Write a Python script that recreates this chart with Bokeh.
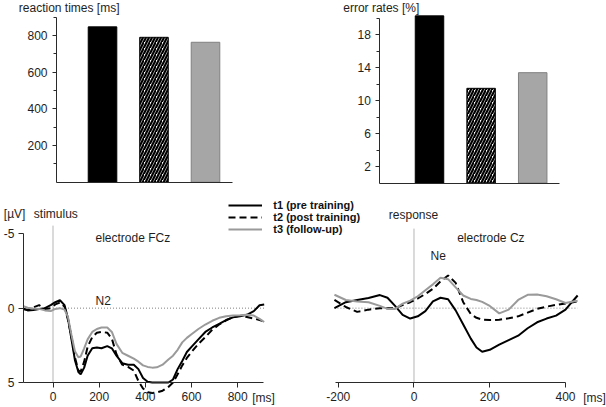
from bokeh.plotting import figure
from bokeh.models import (ColumnDataSource, Range1d, FixedTicker, Label, Legend,
                          LegendItem, LinearAxis, PrintfTickFormatter)
from bokeh.layouts import column, row
from bokeh.embed import file_html
from bokeh.resources import INLINE

# ---------------- data ----------------
sessions = ["t1 (pre training)", "t2 (post training)", "t3 (follow-up)"]
reaction_times_ms = [847, 790, 763]
error_rates_pct = [20.3, 11.5, 13.4]
rt_major_ticks = [200, 400, 600, 800]
rt_minor_ticks = [100, 300, 500, 700, 900]
err_major_ticks = [2, 6, 10, 14, 18]
err_minor_ticks = [4, 8, 12, 16, 20]

# stimulus-locked ERP, electrode FCz (µV, negative up)
fcz_time_ms = [-128, -110, -85, -60, -35, -10, 10, 30, 50, 65, 80, 95, 110, 120, 135, 150,
               170, 190, 210, 235, 255, 275, 300, 325, 350, 370, 390, 410, 430, 450, 475,
               500, 520, 540, 560, 580, 600, 630, 660, 690, 720, 750, 780, 810, 840, 870,
               895, 915]
fcz_t1 = [0.03, 0.15, 0.12, 0.05, 0.0, -0.2, -0.4, -0.53, -0.2, 0.7, 2.1, 3.5, 4.3, 4.45,
          4.0, 3.2, 2.7, 2.65, 2.7, 2.55, 2.7, 3.2, 3.7, 3.8, 3.8, 4.1, 4.7, 4.95, 5.0, 5.0,
          5.0, 5.0, 4.8, 4.1, 3.55, 2.95, 2.6, 2.1, 1.6, 1.3, 1.05, 0.8, 0.62, 0.55, 0.45,
          0.2, -0.2, -0.24]
fcz_t2 = [0.08, 0.1, -0.05, -0.2, 0.05, 0.0, -0.25, -0.38, -0.1, 0.8, 1.9, 3.3, 4.2, 4.25,
          3.6, 2.6, 1.95, 1.65, 1.6, 1.65, 2.05, 3.1, 3.8, 3.95, 4.2, 4.9, 5.4, 5.65, 5.7,
          5.67, 5.55, 5.3, 5.0, 4.45, 3.85, 3.35, 2.95, 2.4, 1.95, 1.45, 1.1, 0.82, 0.6,
          0.52, 0.6, 0.7, 0.8, 0.9]
fcz_t3 = [-0.13, -0.03, 0.02, 0.05, 0.15, 0.2, 0.05, 0.0, 0.1, 0.6, 1.8, 2.9, 3.3, 3.25,
          2.7, 2.1, 1.6, 1.4, 1.3, 1.3, 1.6, 2.4, 3.0, 3.2, 3.4, 3.6, 3.85, 3.95, 4.0, 3.98,
          3.8, 3.45, 3.2, 2.8, 2.3, 2.0, 1.75, 1.4, 1.1, 0.85, 0.65, 0.55, 0.5, 0.48, 0.45,
          0.5, 0.72, 0.93]

# response-locked ERP, electrode Cz
cz_time_ms = [-210, -180, -150, -120, -90, -70, -50, -30, -10, 10, 30, 50, 70, 90, 110, 130,
              150, 165, 180, 200, 225, 250, 275, 300, 325, 350, 375, 400, 420, 432]
cz_t1 = [0.0, -0.4, -0.55, -0.68, -0.88, -0.7, -0.15, 0.45, 0.7, 0.55, 0.2, -0.45, -0.7,
         -0.6, 0.15, 1.1, 2.05, 2.65, 2.93, 2.8, 2.45, 2.15, 1.85, 1.35, 0.95, 0.7, 0.5,
         0.1, -0.5, -0.85]
cz_t2 = [-0.55, -0.08, 0.25, 0.1, 0.0, 0.0, 0.0, -0.2, -0.4, -0.65, -0.95, -1.3, -1.8, -2.2,
         -1.7, -0.4, 0.4, 0.65, 0.77, 0.8, 0.78, 0.68, 0.55, 0.3, 0.05, -0.1, -0.22, -0.32,
         -0.4, -0.45]
cz_t3 = [-0.9, -0.55, -0.45, -0.4, -0.15, 0.05, 0.05, -0.3, -0.5, -0.8, -1.2, -1.6, -2.05,
         -1.95, -1.4, -0.85, -0.62, -0.55, -0.42, -0.15, 0.35, 0.1, -0.55, -0.9, -0.92,
         -0.8, -0.6, -0.35, -0.45, -0.5]

uv_ticks = [-5, 0, 5]
fcz_time_ticks = [0, 200, 400, 600, 800]
cz_time_ticks = [-200, 0, 200, 400]

# ---------------- styles ----------------
FONT = "Liberation Sans"
TXT = "#1e1e1e"
AX = "#2a2a2a"
GREY_LINE = "#9a9a9a"
bar_fill = ["#000000", "#ffffff", "#a6a6a6"]
bar_line = ["#000000", "#000000", "#808080"]
bar_hatch = [" ", "/", " "]


def make_fig(w, h, xr, yr):
    p = figure(width=w, height=h, x_range=xr, y_range=yr, output_backend="svg",
               toolbar_location=None, x_axis_location=None, y_axis_location=None,
               min_border_left=0, min_border_right=0, min_border_top=0,
               min_border_bottom=0)
    p.grid.visible = False
    p.outline_line_color = None
    return p


def make_axis(loc, bounds, ticks, minor=(), tick_out=4, minor_out=3, standoff=5, **kw):
    return LinearAxis(fixed_location=loc, bounds=bounds,
                      ticker=FixedTicker(ticks=list(ticks), minor_ticks=list(minor)),
                      formatter=PrintfTickFormatter(format="%d"),
                      axis_line_color=AX, axis_line_width=1,
                      major_tick_line_color=AX, minor_tick_line_color=AX,
                      major_tick_in=0, major_tick_out=tick_out,
                      minor_tick_in=0, minor_tick_out=minor_out,
                      major_label_standoff=standoff,
                      major_label_text_font=FONT, major_label_text_font_size="12px",
                      major_label_text_color=TXT, **kw)


def label(p, x, y, text, size="12px", style="normal", **kw):
    p.add_layout(Label(x=x, y=y, text=text, text_font=FONT, text_font_size=size,
                       text_font_style=style, text_color=TXT, text_baseline="middle",
                       text_align="left", **kw))


bar_pos = [i + 1 for i in range(len(sessions))]

# ---------------- reaction times ----------------
tl = make_fig(300, 195, Range1d(-0.981, 4.845), Range1d(-72.5, 990.8))
src_rt = ColumnDataSource(dict(x=bar_pos, top=reaction_times_ms, fill=bar_fill,
                               line=bar_line, hatch=bar_hatch))
tl.vbar(x="x", top="top", bottom=0, width=0.555, source=src_rt, fill_color="fill",
        line_color="line", line_width=1, hatch_pattern="hatch", hatch_color="black",
        hatch_scale=6, hatch_weight=2.2)
tl.add_layout(make_axis(0.107, (0, 900), rt_major_ticks, rt_minor_ticks,
                        standoff=5), "left")
tl.add_layout(make_axis(0, (0.107, 3.524), [], tick_out=0, minor_out=0), "below")
label(tl, -0.625, 951.6, "reaction times [ms]")

# ---------------- error rates ----------------
tr = make_fig(306, 195, Range1d(-1.5, 4.43), Range1d(-1.518, 22.167))
src_er = ColumnDataSource(dict(x=bar_pos, top=error_rates_pct, fill=bar_fill,
                               line=bar_line, hatch=bar_hatch))
tr.vbar(x="x", top="top", bottom=0, width=0.552, source=src_er, fill_color="fill",
        line_color="line", line_width=1, hatch_pattern="hatch", hatch_color="black",
        hatch_scale=6, hatch_weight=2.2)
tr.add_layout(make_axis(0.0368, (0, 20), err_major_ticks, err_minor_ticks,
                        standoff=5), "left")
tr.add_layout(make_axis(0, (0.0368, 3.519), [], tick_out=0, minor_out=0), "below")
label(tr, -0.672, 21.29, "error rates [%]")

# ---------------- ERPs ----------------
pb = make_fig(606, 212, Range1d(-227.5, 2398.2), Range1d(6.681, -7.576))
pb.extra_x_ranges = {"cz": Range1d(-1091.6, 508.2)}

# reference lines (stimulus / response onset and zero level)
pb.segment(x0=0, y0=uv_ticks[0] - 0.55, x1=0, y1=uv_ticks[-1], line_color="#b5b5b5",
           line_width=1)
pb.segment(x0=0, y0=uv_ticks[0] - 0.35, x1=0, y1=uv_ticks[-1], line_color="#b5b5b5",
           line_width=1, x_range_name="cz")
pb.line(x=[0, fcz_time_ms[-1]], y=[0, 0], line_color="#808080", line_width=1,
        line_dash="1 2")
pb.line(x=[cz_time_ms[0], cz_time_ms[-1]], y=[0, 0], line_color="#808080", line_width=1,
        line_dash="1 2", x_range_name="cz")

src_fcz = ColumnDataSource(dict(t=fcz_time_ms, a=fcz_t1, b=fcz_t2, c=fcz_t3))
src_cz = ColumnDataSource(dict(t=cz_time_ms, a=cz_t1, b=cz_t2, c=cz_t3))

styles = [dict(line_color="black", line_width=2),
          dict(line_color="black", line_width=2, line_dash="7 4"),
          dict(line_color=GREY_LINE, line_width=2)]
renderers = []
for col, st in zip(["a", "b", "c"], styles):
    r = pb.line("t", col, source=src_fcz, **st)
    pb.line("t", col, source=src_cz, x_range_name="cz", **st)
    renderers.append(r)

pb.add_layout(make_axis(5, (-128, 912), fcz_time_ticks, tick_out=5, standoff=4), "below")
pb.add_layout(make_axis(5, (-208, 400), cz_time_ticks, tick_out=5, standoff=4,
                        x_range_name="cz"), "below")
pb.add_layout(make_axis(-128, (-5, 5), uv_ticks, tick_out=5, standoff=4), "left")

legend = Legend(items=[LegendItem(label=s, renderers=[r]) for s, r in zip(sessions, renderers)],
                location=(228.3, 172), orientation="vertical",
                label_text_font=FONT, label_text_font_style="bold",
                label_text_font_size="11px", label_text_color="#111111",
                glyph_width=34, glyph_height=10, label_height=10, label_width=10,
                label_standoff=11, spacing=-2, padding=0, margin=0,
                border_line_color=None, background_fill_alpha=0)
pb.add_layout(legend)

label(pb, -213.2, -6.345, "[µV]")
label(pb, -83.2, -6.345, "stimulus")
label(pb, 184.1, -4.70, "electrode FCz")
label(pb, 184.1, -0.51, "N2")
label(pb, 863, 6.01, "[ms]")
label(pb, -66.5, -6.28, "response", x_range_name="cz")
label(pb, 114, -4.70, "electrode Cz", x_range_name="cz")
label(pb, 43.6, -3.54, "Ne", x_range_name="cz")
label(pb, 446.7, 6.01, "[ms]", x_range_name="cz")

layout = column(row(tl, tr), pb)
open("out.html", "w").write(file_html(layout, INLINE))
